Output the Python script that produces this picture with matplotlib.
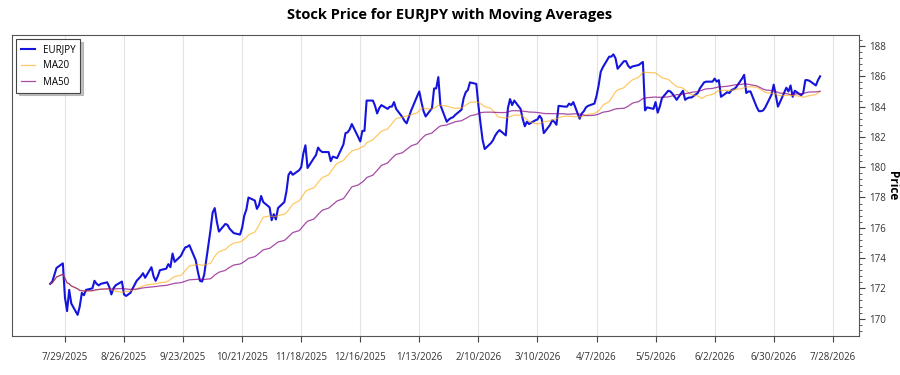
import pandas as pd
import matplotlib
matplotlib.use("Agg")
import matplotlib.pyplot as plt
from matplotlib.ticker import AutoMinorLocator, FuncFormatter
import matplotlib.dates as mdates

plt.rcParams["font.family"] = ["Open Sans", "DejaVu Sans"]

# daily EURJPY closes (business days from 2025-07-22)
eurjpy = [
    172.3, 172.45, 172.9, 173.35,
    173.65, 171.4, 170.5, 171.9, 171.0,
    170.25, 170.8, 171.7, 171.55, 171.9,
    172.0, 172.5, 172.3, 172.2, 172.3,
    172.4, 172.1, 171.6, 172.0, 172.2,
    172.45, 171.6, 171.5, 171.6, 171.7,
    172.5, 172.65, 172.8, 173.0, 172.7,
    173.4, 172.8, 172.5, 172.8, 173.2,
    173.3, 173.6, 173.4, 174.3, 173.75,
    174.15, 174.45, 174.7, 174.75, 174.85,
    173.85, 173.1, 172.5, 172.45, 172.9,
    175.85, 177.0, 177.3, 176.4, 175.75,
    176.25, 176.2, 175.95, 175.8, 175.65,
    175.55, 176.0, 176.8, 177.2, 178.0,
    177.8, 177.25, 177.5, 178.1, 177.7,
    177.35, 176.5, 176.9, 176.55, 177.3,
    177.7, 178.4, 179.5, 179.7, 179.5,
    179.8, 180.0, 180.9, 181.45, 179.95,
    180.6, 180.8, 181.3, 181.1, 181.0,
    181.0, 180.4, 180.7, 180.65, 180.6,
    181.5, 182.25, 182.3, 182.5, 182.85,
    182.0, 181.7, 182.4, 182.4, 184.4,
    184.4, 184.05, 183.55, 183.9, 184.1,
    183.85, 184.0, 184.0, 184.3, 183.85,
    183.3, 183.05, 182.9, 183.3, 183.7,
    184.7, 185.0, 184.3, 183.7, 183.35,
    183.9, 185.2, 185.2, 185.95, 184.1,
    183.0, 183.15, 183.25, 183.3, 183.45,
    183.8, 184.55, 184.95, 185.1, 185.6,
    185.5, 184.1, 182.9, 181.8, 181.2,
    181.6, 181.8, 182.1, 182.3, 182.45,
    182.1, 183.9, 184.5, 184.1, 184.4,
    183.85, 183.2, 182.7, 183.0, 182.85,
    183.1, 183.15, 183.4, 183.2, 182.25,
    182.8, 183.1, 183.0, 182.8, 184.05,
    184.0, 184.0, 184.2, 184.1, 184.3,
    183.2, 183.55, 183.7, 183.95, 184.05,
    184.2, 184.7, 185.4, 186.3, 186.6,
    187.3, 187.3, 187.45, 187.2, 186.5,
    187.0, 187.0, 186.7, 186.55, 186.65,
    186.75, 186.85, 186.95, 183.75, 183.95,
    183.85, 184.3, 183.6, 184.0, 184.55,
    185.05, 185.0, 184.85, 184.65, 184.45,
    185.05, 184.45, 184.55, 184.6, 184.6,
    184.9, 185.2, 185.4, 185.6, 185.65,
    185.65, 185.85, 185.65, 185.75, 184.65,
    184.95, 184.9, 185.1, 185.15, 185.25,
    185.85, 186.1, 184.9, 185.0, 185.0,
    183.95, 183.7, 183.7, 183.75, 183.95,
    184.8, 185.45, 184.75, 184.0, 184.3,
    185.25, 185.0, 185.4, 184.65, 185.05,
    184.75, 184.9, 185.75, 185.75, 185.7,
    185.4, 185.75, 186.0,
]
start_date = "2025-07-22"
tick_dates = pd.date_range("2025-07-29", "2026-07-28", freq="28D")
y_ticks = list(range(170, 189, 2))

df = pd.DataFrame({"close": eurjpy},
                  index=pd.bdate_range(start_date, periods=len(eurjpy)))
df["ma20"] = df["close"].rolling(20, min_periods=1).mean()
df["ma50"] = df["close"].rolling(50, min_periods=1).mean()

fig = plt.figure(figsize=(9, 3.75), dpi=100)
ax = fig.add_axes([0.013, 0.105, 0.941, 0.8025])

ax.plot(df.index, df["close"], color="#1414dc", lw=1.5, label="EURJPY")
ax.plot(df.index, df["ma20"], color="orange", lw=0.9, alpha=0.6, label="MA20")
ax.plot(df.index, df["ma50"], color="purple", lw=0.9, alpha=0.7, label="MA50")

ax.set_ylim(168.88, 188.75)
ax.set_yticks(y_ticks)
ax.yaxis.set_minor_locator(AutoMinorLocator(5))
ax.yaxis.tick_right()
ax.yaxis.set_label_position("right")
ax.set_ylabel("Price", rotation=270, fontweight="bold", fontsize=8.5, va="center")
ax.yaxis.set_label_coords(1.04, 0.5)

ax.set_xticks(tick_dates)
ax.xaxis.set_major_formatter(FuncFormatter(
    lambda v, pos: (lambda d: f"{d.month}/{d.day}/{d.year}")(mdates.num2date(v))))
ax.tick_params(axis="both", labelsize=7, length=4, color="#444444", labelcolor="#333333")
ax.tick_params(axis="x", pad=8)
ax.tick_params(axis="y", which="minor", length=2, color="#444444")
ax.grid(axis="x", color="#e3e3e3", lw=0.8)
for s in ax.spines.values():
    s.set_color("#555555")

fig.suptitle("Stock Price for EURJPY with Moving Averages", x=0.5, y=0.978,
             fontsize=10.5, fontweight="bold")

leg = ax.legend(loc="upper left", fontsize=7, fancybox=False,
                shadow={"color": "#9a9a9a", "alpha": 0.6},
                edgecolor="#444444", handlelength=1.4, labelspacing=0.55,
                borderpad=0.5, borderaxespad=0.3, bbox_to_anchor=(0.002, 0.995))
leg.get_frame().set_linewidth(0.8)

fig.savefig("out.png", dpi=100)
